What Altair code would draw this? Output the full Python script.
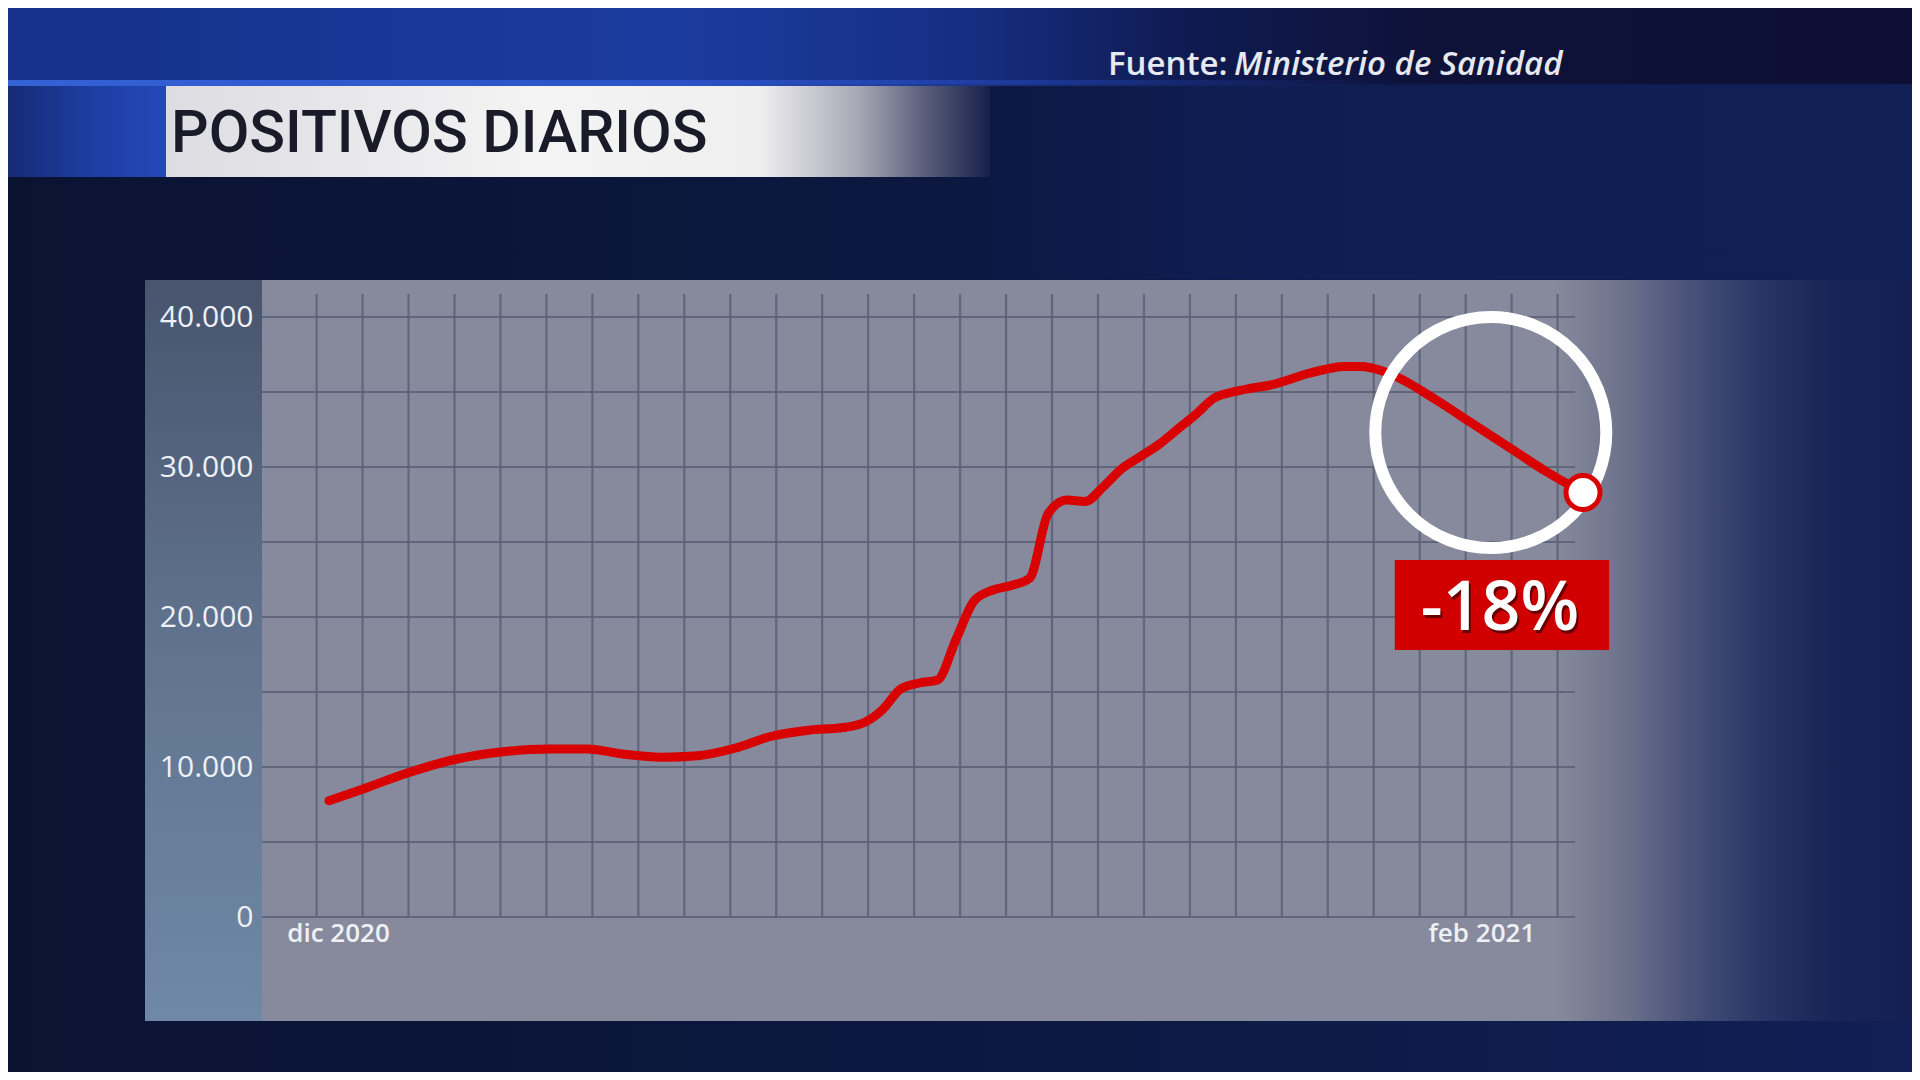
import altair as alt
import pandas as pd

# ---------------- data ----------------
dates = [
    "2020-12-01", "2020-12-03", "2020-12-05", "2020-12-08", "2020-12-10",
    "2020-12-13", "2020-12-15", "2020-12-17", "2020-12-19", "2020-12-21",
    "2020-12-23", "2020-12-25", "2020-12-27", "2020-12-29", "2020-12-30",
    "2020-12-31", "2021-01-01", "2021-01-02", "2021-01-03", "2021-01-04",
    "2021-01-05", "2021-01-06", "2021-01-07", "2021-01-08", "2021-01-09",
    "2021-01-10", "2021-01-11", "2021-01-12", "2021-01-13", "2021-01-14",
    "2021-01-15", "2021-01-16", "2021-01-17", "2021-01-18", "2021-01-19",
    "2021-01-20", "2021-01-21", "2021-01-22", "2021-01-23", "2021-01-24",
    "2021-01-25", "2021-01-26", "2021-01-27", "2021-01-28", "2021-01-30",
    "2021-02-01", "2021-02-03", "2021-02-05", "2021-02-07",
]
positivos = [
    7750, 8600, 9500, 10550, 10950,
    11200, 11200, 10850, 10650, 10750,
    11250, 12050, 12450, 12650, 12950,
    13800, 15200, 15600, 15800, 18500,
    21100, 21800, 22100, 22600, 26900,
    27800, 27700, 28700, 29900, 30700,
    31500, 32500, 33500, 34600, 35000,
    35250, 35450, 35800, 36200, 36500,
    36700, 36700, 36450, 35950, 34500,
    32900, 31300, 29700, 28300,
]
y_ticks = [0, 10000, 20000, 30000, 40000]
y_grid = [0, 5000, 10000, 15000, 20000, 25000, 30000, 35000, 40000]
x_tick_months = ["2020-12", "2021-02"]
x_tick_labels = ["dic 2020", "feb 2021"]
v_grid = list(range(28))  # decorative vertical grid lines

title_text = "POSITIVOS DIARIOS"
source_label = "Fuente:"
source_name = "Ministerio de Sanidad"
badge_text = "-18%"
ring_date = ["2021-02-02"]
ring_value = [32300]
badge_x = ["2021-01-27T19:00:00"]
badge_x2 = ["2021-02-08T10:00:00"]
badge_y = [17800]
badge_y2 = [23800]
badge_text_date = ["2021-02-02T12:00:00"]
badge_text_value = [20500]

# ---------------- helpers ----------------
O = 8  # page margin
W, H = 1904, 1064
dummy = alt.Data(values=[{"a": 1}])


def grad(stops, vertical=False):
    return alt.LinearGradient(
        gradient="linear",
        stops=[alt.GradientStop(offset=o, color=c) for o, c in stops],
        x1=0, x2=0 if vertical else 1, y1=0, y2=1 if vertical else 0,
    )


def box(x, x2, y, y2, fill, **kw):
    return alt.Chart(dummy).mark_rect(fill=fill, **kw).encode(
        x=alt.value(x - O), x2=alt.value(x2 - O),
        y=alt.value(y - O), y2=alt.value(y2 - O),
    )


def label(text, x, y, **kw):
    return alt.Chart(dummy).mark_text(text=text, **kw).encode(
        x=alt.value(x - O), y=alt.value(y - O)
    )


def tparse(s):
    return s if "T" in s else s + "T00:00:00"


x_dom = [alt.DateTime(year=2020, month=12, date=1), alt.DateTime(year=2021, month=2, date=7)]
x_rng = [329 - O, 1583 - O]
y_rng = [917 - O, 317 - O]


def xs():
    return alt.Scale(domain=x_dom, range=x_rng)


def ys():
    return alt.Scale(domain=[0, 40000], range=y_rng, nice=False, zero=False)


# ---------------- background decorations ----------------
bg = box(0, 1920, 0, 1080, grad([(0, "#0a1332"), (0.5, "#0c1840"), (1, "#111f55")]))
top_band = box(0, 1920, 0, 84, grad([
    (0, "#15308a"), (0.35, "#1b3b9e"), (0.5, "#162f84"), (0.62, "#0f1a50"),
    (0.75, "#0e1238"), (1, "#0d1034")]))
glow = box(0, 1400, 80, 86, grad([(0, "#3562d6"), (0.5, "#2a52c4"), (1, "rgba(30,60,170,0)")]))
right_band = box(990, 1920, 86, 279, grad([(0, "#0c1844"), (0.3, "#0f1e52"), (1, "#101f56")]))
title_left = box(0, 166, 86, 177, grad([(0, "#14296f"), (0.5, "#1c3c9e"), (1, "#2448b8")]))
title_box = box(166, 990, 86, 177, grad([
    (0, "#dcdce2"), (0.45, "#f4f4f4"), (0.72, "#efeff0"), (0.84, "#a8a8b6"),
    (0.92, "#5a5e7a"), (1, "#16204a")]))
title = label(title_text, 171, 152, font="Roboto", fontSize=59, fontWeight=500, color="#1a1a28",
              align="left", baseline="alphabetic")
src1 = label(source_label, 1108, 75, font="Open Sans", fontSize=33, fontWeight=600,
             color="#e6e9f0", align="left", baseline="alphabetic")
src2 = label(source_name, 1234, 75, font="Open Sans", fontSize=33, fontWeight=600,
             fontStyle="italic", color="#e6e9f0", align="left", baseline="alphabetic")

panel_y = box(145, 262, 280, 1021, grad([(0, "#48546e"), (0.5, "#61748f"), (1, "#6f88a6")], vertical=True))
panel_plot = box(262, 1920, 280, 1021, grad([
    (0, "#878a9c"), (0.78, "#878a9c"), (0.82, "#6e738c"), (0.863, "#465078"),
    (0.906, "#283464"), (0.95, "#192355"), (1, "#141e50")]))

# ---------------- grid ----------------
vgrid = alt.Chart(pd.DataFrame({"k": v_grid})).mark_rule(
    color="#5b6076", strokeWidth=2.2, opacity=0.85
).encode(
    x=alt.X("k:Q", scale=alt.Scale(domain=[0, 27], range=[316.6 - O, 1557.6 - O]), axis=None),
    y=alt.value(294 - O), y2=alt.value(917 - O),
)
hgrid = alt.Chart(pd.DataFrame({"g": y_grid})).mark_rule(
    color="#5b6076", strokeWidth=2.2, opacity=0.85
).encode(
    y=alt.Y("g:Q", scale=ys(), axis=None),
    x=alt.value(262 - O), x2=alt.value(1575 - O),
)

# ---------------- series ----------------
df = pd.DataFrame({"fecha": [tparse(d) for d in dates], "positivos": positivos})

month_expr = "timeFormat(datum.value, '%Y-%m')"
x_label_expr = ""
for m, l in zip(x_tick_months, x_tick_labels):
    x_label_expr += f"{month_expr} == '{m}' ? '{l}' : "
x_label_expr += "''"

x_axis = alt.Axis(
    values=[alt.DateTime(year=2020, month=12, date=1), alt.DateTime(year=2021, month=2, date=1)],
    labelExpr=x_label_expr, labelOffset=9, labelPadding=3, labelFlush=False,
    ticks=False, tickSize=0, domain=False, grid=False, title=None, zindex=5,
    labelColor="#eef0f5", labelFontSize=26, labelFont="Open Sans", labelFontWeight=600,
    offset=(917 - O) - H,
)
y_axis = alt.Axis(
    values=y_ticks, labelExpr="replace(format(datum.value, ','), ',', '.')",
    labelPadding=0, ticks=False, tickSize=0, domain=False, grid=False, title=None, zindex=5,
    labelColor="#eef1f6", labelFontSize=30, labelFont="Open Sans", labelFontWeight=500,
    offset=-(253 - O),
)

line = alt.Chart(df).mark_line(
    color="#d80000", strokeWidth=9, interpolate="monotone", strokeCap="round", strokeJoin="round"
).encode(
    x=alt.X("fecha:T", scale=xs(), axis=x_axis),
    y=alt.Y("positivos:Q", scale=ys(), axis=y_axis),
)

ring = alt.Chart(pd.DataFrame({"fecha": [tparse(d) for d in ring_date], "v": ring_value})).mark_point(
    shape="circle", size=231 ** 2, filled=False, stroke="white", strokeWidth=12, opacity=1
).encode(
    x=alt.X("fecha:T", scale=xs(), axis=None),
    y=alt.Y("v:Q", scale=ys(), axis=None),
)

dot = alt.Chart(pd.DataFrame({"fecha": [tparse(dates[-1])], "v": [positivos[-1]]})).mark_point(
    shape="circle", size=34 ** 2, filled=True, fill="white", stroke="#d80000", strokeWidth=5, opacity=1
).encode(
    x=alt.X("fecha:T", scale=xs(), axis=None),
    y=alt.Y("v:Q", scale=ys(), axis=None),
)

badge = alt.Chart(pd.DataFrame({"x1": badge_x, "x2": badge_x2, "y1": badge_y, "y2": badge_y2})).mark_rect(
    color="#d00000"
).encode(
    x=alt.X("x1:T", scale=xs(), axis=None), x2="x2:T",
    y=alt.Y("y1:Q", scale=ys(), axis=None), y2="y2:Q",
)

bt_df = pd.DataFrame({"fecha": badge_text_date, "v": badge_text_value})
badge_shadow = alt.Chart(bt_df).mark_text(
    text=badge_text, font="Open Sans", fontSize=68, fontWeight=600, color="#3a0000",
    opacity=0.7, align="center", baseline="middle", dx=2, dy=3
).encode(
    x=alt.X("fecha:T", scale=xs(), axis=None),
    y=alt.Y("v:Q", scale=ys(), axis=None),
)
badge_label = alt.Chart(bt_df).mark_text(
    text=badge_text, font="Open Sans", fontSize=68, fontWeight=600, color="white",
    align="center", baseline="middle"
).encode(
    x=alt.X("fecha:T", scale=xs(), axis=None),
    y=alt.Y("v:Q", scale=ys(), axis=None),
)

chart = alt.layer(
    bg, top_band, glow, right_band, title_left, title_box, title, src1, src2,
    panel_y, panel_plot, vgrid, hgrid, line, ring, dot, badge, badge_shadow, badge_label,
).resolve_scale(
    x="independent", y="independent"
).resolve_axis(
    x="independent", y="independent"
).properties(
    width=W, height=H, autosize="none", padding=0, background="#0a1332"
).configure_view(strokeWidth=0)

chart.save("out.html", embed_options={"renderer": "svg", "actions": False})
